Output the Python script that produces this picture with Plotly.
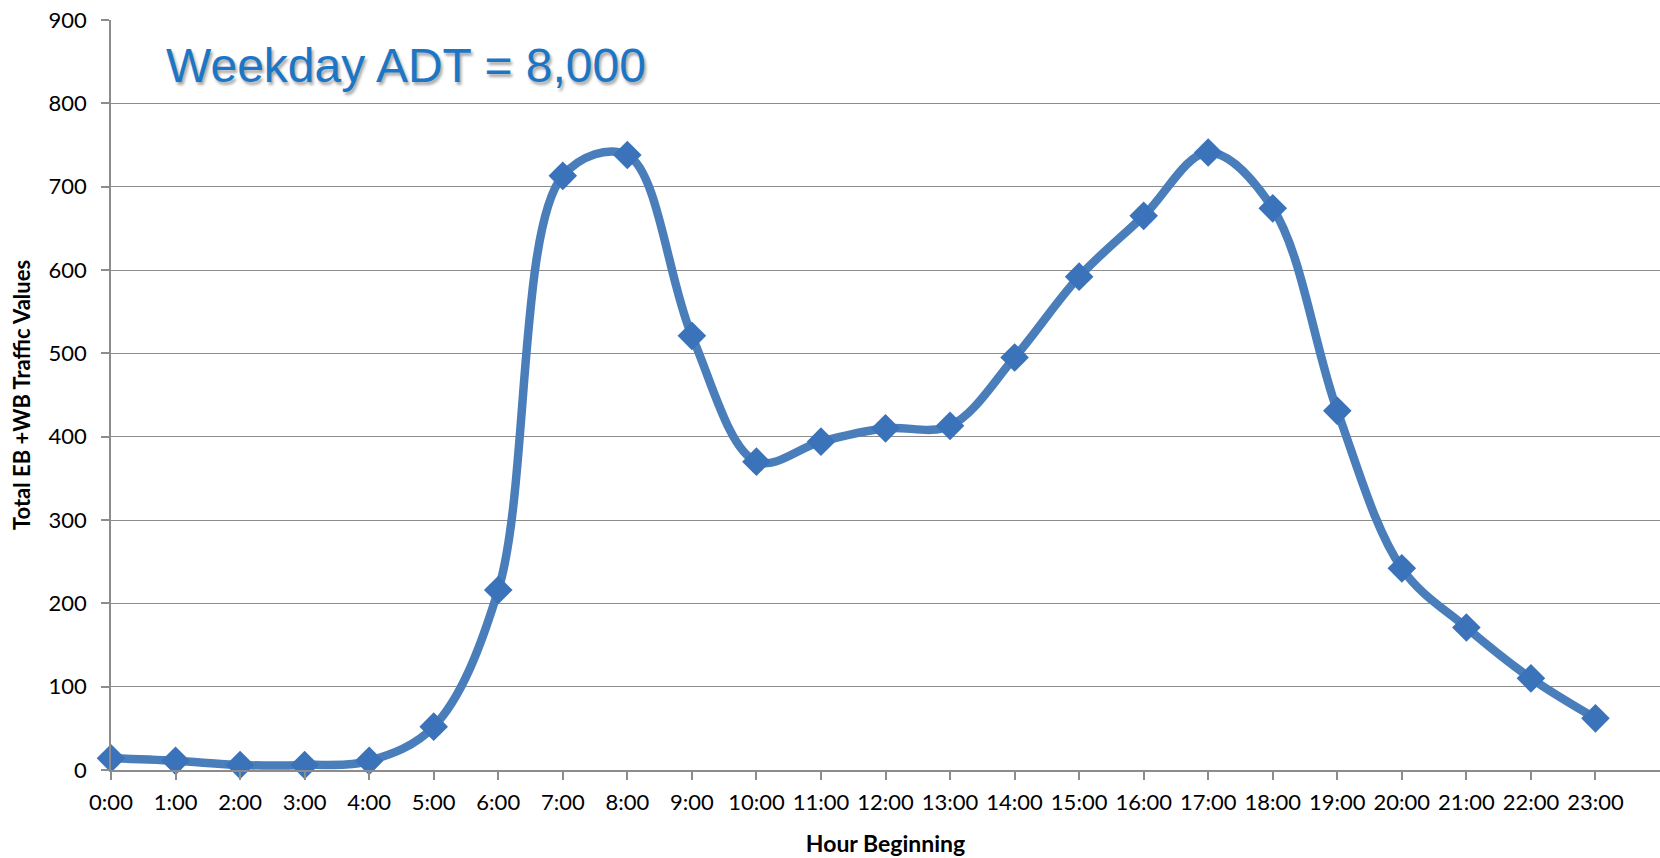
import plotly.graph_objects as go

hours = ["0:00", "1:00", "2:00", "3:00", "4:00", "5:00", "6:00", "7:00", "8:00", "9:00",
         "10:00", "11:00", "12:00", "13:00", "14:00", "15:00", "16:00", "17:00", "18:00",
         "19:00", "20:00", "21:00", "22:00", "23:00"]
traffic = [14, 11, 6, 6, 11, 52, 216, 713, 738, 521, 370, 394, 410, 413, 495, 592, 665,
           741, 674, 431, 242, 171, 110, 62]
y_ticks = [0, 100, 200, 300, 400, 500, 600, 700, 800, 900]
title_text = "Weekday ADT = 8,000"

xs = list(range(len(hours)))

fig = go.Figure()
fig.add_trace(go.Scatter(
    x=xs, y=traffic, mode="lines+markers",
    line=dict(color="#4A7EBB", width=8.5, shape="spline", smoothing=1.0),
    marker=dict(symbol="diamond", size=22, color="#3A73BA",
                line=dict(width=0)),
    showlegend=False,
    cliponaxis=False,
))

grid = "#8C8C8C"
fig.update_layout(
    width=1660, height=858,
    margin=dict(l=111, r=0, t=20, b=88, autoexpand=False),
    paper_bgcolor="white", plot_bgcolor="white",
    font=dict(family="Lato, Carlito, Calibri, sans-serif", size=22, color="black"),
    xaxis=dict(
        range=[0, 24], tickvals=xs, ticktext=hours,
        showgrid=False, zeroline=False,
        showline=True, linecolor=grid, linewidth=1.5,
        ticks="outside", ticklen=8, tickcolor=grid, tickwidth=1.5,
        tickfont=dict(size=22), ticklabelstandoff=4,
        automargin=False,
        title=dict(text="<b>Hour Beginning</b>", font=dict(size=23), standoff=22),
    ),
    yaxis=dict(
        range=[0, 900], tickvals=y_ticks,
        showgrid=True, gridcolor=grid, gridwidth=1.3,
        zeroline=False,
        showline=True, linecolor=grid, linewidth=1.5,
        ticks="outside", ticklen=8, tickcolor=grid, tickwidth=1.5,
        tickfont=dict(size=22), ticklabelstandoff=10,
        automargin=False,
        title=dict(text="<b>Total EB +WB Traffic Values</b>", font=dict(size=22), standoff=12),
    ),
    annotations=[dict(
        text=title_text, xref="paper", yref="paper", x=0.0345, y=0.94,
        xanchor="left", yanchor="middle", showarrow=False,
        font=dict(family="Liberation Sans, Arial, sans-serif",
                  size=48, color="#1C76C6",
                  shadow="2px 3px 3px rgba(0,0,0,0.35)"),
    )],
)

fig.write_html("out.html", config={"displayModeBar": False},
               post_script="document.body.style.margin='0px';")
